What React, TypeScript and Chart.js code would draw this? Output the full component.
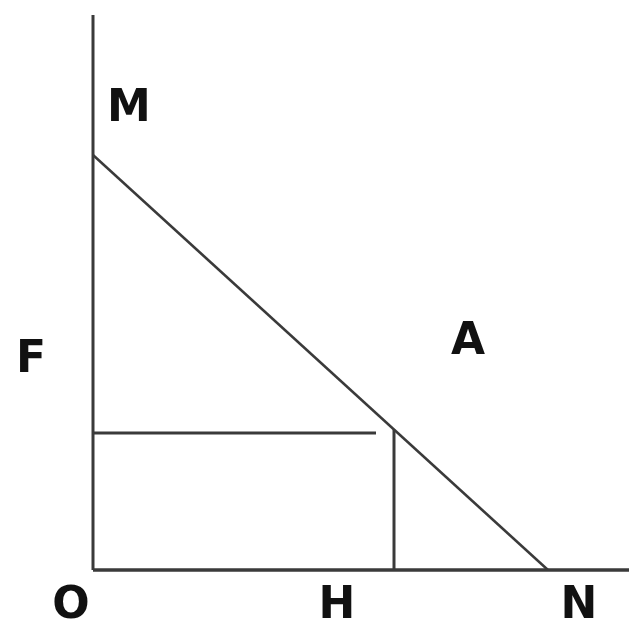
import React, { useEffect, useRef } from "react";
import { Chart, registerables } from "chart.js";

Chart.register(...registerables);

// Diagram values (data units, origin O at 0,0)
const axisTop = 555;        // top of vertical axis
const axisRight = 540;      // right end of horizontal axis
const mIntercept = 415;     // M on vertical axis
const nIntercept = 455;     // N on horizontal axis
const hValue = 301;         // H on horizontal axis
const fValue = 137;         // F level (horizontal line)
const fLineEnd = 283;       // where the F horizontal line stops

const pointLabels = ["M", "F", "A", "O", "H", "N"];
const labelX = [36, -62, 375, -22, 244, 486];
const labelY = [460, 209, 227, -37, -37, -37];

const xMin = -93;
const xMax = 536;
const yMin = -63;
const yMax = 570;

export default function App() {
  const ref = useRef<HTMLCanvasElement | null>(null);

  useEffect(() => {
    const canvas = ref.current;
    if (!canvas) return;
    const hTop = mIntercept * (1 - hValue / nIntercept);
    const lineColor = "#3a3a3a";

    const labelPlugin = {
      id: "pointLabels",
      afterDatasetsDraw(chart: any) {
        const { ctx, scales } = chart;
        ctx.save();
        ctx.fillStyle = "#111";
        ctx.font = 'bold 44px "DejaVu Sans"';
        ctx.textAlign = "center";
        ctx.textBaseline = "middle";
        pointLabels.forEach((t, i) => {
          const px = scales.x.getPixelForValue(labelX[i]);
          const py = scales.y.getPixelForValue(labelY[i]);
          ctx.fillText(t, px, py);
        });
        ctx.restore();
      },
    };

    const seg = (pts: { x: number; y: number }[], width: number) => ({
      data: pts,
      borderColor: lineColor,
      borderWidth: width,
      pointRadius: 0,
      showLine: true,
      fill: false,
      tension: 0,
    });

    const chart = new Chart(canvas, {
      type: "scatter",
      data: {
        datasets: [
          seg([{ x: 0, y: 0 }, { x: 0, y: axisTop }], 3),
          seg([{ x: 0, y: 0 }, { x: axisRight, y: 0 }], 3.5),
          seg([{ x: 0, y: mIntercept }, { x: nIntercept, y: 0 }], 2.5),
          seg([{ x: 0, y: fValue }, { x: fLineEnd, y: fValue }], 3),
          seg([{ x: hValue, y: 0 }, { x: hValue, y: hTop }], 3),
        ],
      },
      options: {
        animation: false,
        responsive: false,
        layout: { padding: 0 },
        plugins: { legend: { display: false }, tooltip: { enabled: false } },
        scales: {
          x: { type: "linear", min: xMin, max: xMax, display: false },
          y: { type: "linear", min: yMin, max: yMax, display: false },
        },
      },
      plugins: [labelPlugin],
    });
    return () => chart.destroy();
  }, []);

  return (
    <div style={{ position: "fixed", left: 0, top: 0, width: 629, height: 633, background: "#fff" }}>
      <canvas ref={ref} width={629} height={633} style={{ display: "block" }} />
    </div>
  );
}
